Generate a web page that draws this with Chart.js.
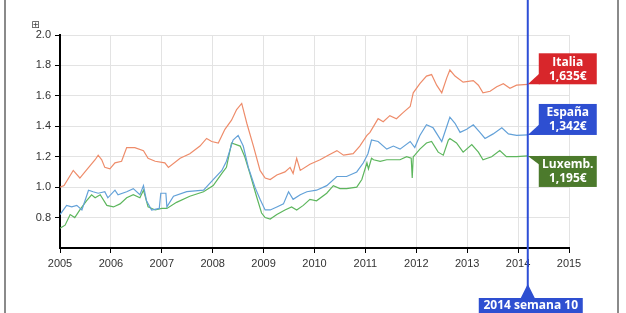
<!DOCTYPE html>
<html>
<head>
<meta charset="utf-8">
<script src="https://cdn.jsdelivr.net/npm/chart.js@4/dist/chart.umd.min.js"></script>
<style>
  html, body { margin: 0; padding: 0; background: #fff; }
  #wrap { width: 626px; height: 313px; position: relative; }
</style>
</head>
<body>
<div id="wrap"><canvas id="myChart" width="626" height="313"></canvas></div>
<script>
// precio medio semanal (€/litro), año decimal
var itYears = [2005.00,2005.08,2005.26,2005.39,2005.49,2005.69,2005.75,2005.82,2005.88,2005.98,
  2006.08,2006.21,2006.31,2006.47,2006.64,2006.73,2006.87,2007.06,2007.13,2007.36,
  2007.55,2007.75,2007.88,2007.98,2008.11,2008.24,2008.37,2008.47,2008.57,2008.67,
  2008.80,2008.93,2009.03,2009.13,2009.26,2009.42,2009.52,2009.58,2009.65,2009.72,
  2009.91,2010.11,2010.27,2010.44,2010.57,2010.76,2010.89,2011.03,2011.09,2011.25,
  2011.35,2011.48,2011.61,2011.74,2011.88,2011.94,2012.07,2012.20,2012.30,2012.40,
  2012.50,2012.60,2012.66,2012.76,2012.92,2013.12,2013.22,2013.31,2013.45,2013.58,
  2013.71,2013.84,2013.97,2014.19]
var itPrices = [1.00,1.01,1.11,1.06,1.10,1.18,1.21,1.18,1.13,1.12,
  1.16,1.17,1.26,1.26,1.24,1.19,1.17,1.16,1.13,1.19,
  1.22,1.27,1.32,1.30,1.29,1.38,1.44,1.51,1.55,1.42,
  1.27,1.11,1.06,1.05,1.08,1.10,1.13,1.09,1.19,1.11,
  1.15,1.18,1.21,1.24,1.21,1.22,1.27,1.34,1.36,1.45,
  1.43,1.47,1.45,1.49,1.53,1.62,1.68,1.73,1.74,1.67,
  1.62,1.72,1.77,1.73,1.69,1.70,1.67,1.62,1.63,1.66,
  1.68,1.65,1.67,1.676]

var esYears = [2005.00,2005.13,2005.23,2005.33,2005.43,2005.56,2005.65,2005.75,2005.88,2005.94,
  2006.08,2006.14,2006.31,2006.44,2006.57,2006.64,2006.70,2006.80,2006.95,2006.98,
  2007.08,2007.10,2007.23,2007.49,2007.82,2008.01,2008.18,2008.27,2008.40,2008.50,
  2008.60,2008.70,2008.83,2008.93,2009.03,2009.13,2009.26,2009.39,2009.49,2009.58,
  2009.72,2009.85,2010.04,2010.24,2010.44,2010.63,2010.83,2010.96,2011.05,2011.12,
  2011.25,2011.42,2011.55,2011.68,2011.88,2011.97,2012.07,2012.20,2012.33,2012.50,
  2012.60,2012.66,2012.76,2012.86,2012.99,2013.12,2013.25,2013.35,2013.51,2013.68,
  2013.81,2013.97,2014.19]
var esPrices = [0.82,0.88,0.87,0.88,0.85,0.98,0.97,0.96,0.97,0.93,
  0.98,0.95,0.97,0.99,0.95,1.01,0.91,0.85,0.86,0.96,
  0.96,0.87,0.94,0.97,0.98,1.05,1.11,1.17,1.31,1.34,
  1.27,1.13,1.00,0.92,0.85,0.85,0.87,0.89,0.97,0.92,
  0.95,0.97,0.98,1.01,1.07,1.07,1.10,1.16,1.22,1.31,
  1.30,1.25,1.27,1.25,1.30,1.26,1.34,1.41,1.39,1.30,
  1.40,1.46,1.42,1.36,1.38,1.41,1.36,1.32,1.35,1.39,
  1.35,1.34,1.343]

var luYears = [2005.00,2005.10,2005.20,2005.29,2005.39,2005.52,2005.62,2005.69,2005.79,2005.92,
  2006.05,2006.18,2006.31,2006.44,2006.57,2006.64,2006.73,2006.87,2007.00,2007.10,
  2007.29,2007.55,2007.82,2008.01,2008.18,2008.27,2008.37,2008.54,2008.63,2008.73,
  2008.86,2008.96,2009.03,2009.13,2009.26,2009.42,2009.55,2009.65,2009.78,2009.91,
  2010.04,2010.24,2010.37,2010.50,2010.63,2010.83,2010.93,2011.03,2011.06,2011.12,
  2011.16,2011.29,2011.42,2011.55,2011.68,2011.81,2011.90,2011.92,2011.94,2011.97,
  2012.07,2012.20,2012.30,2012.43,2012.53,2012.63,2012.66,2012.79,2012.92,2013.09,
  2013.22,2013.31,2013.48,2013.64,2013.77,2013.97,2014.19]
var luPrices = [0.73,0.75,0.82,0.80,0.85,0.91,0.95,0.93,0.95,0.88,
  0.87,0.89,0.93,0.95,0.93,0.98,0.87,0.85,0.86,0.86,
  0.90,0.94,0.97,1.01,1.09,1.13,1.29,1.27,1.20,1.09,
  0.94,0.83,0.80,0.79,0.82,0.85,0.87,0.85,0.88,0.92,
  0.91,0.96,1.01,0.99,0.99,1.00,1.05,1.16,1.12,1.19,
  1.18,1.17,1.18,1.18,1.18,1.20,1.19,1.06,1.20,1.21,
  1.25,1.29,1.30,1.23,1.21,1.31,1.32,1.29,1.23,1.28,
  1.23,1.18,1.20,1.24,1.20,1.20,1.205]

var countries = ["Italia","España","Luxemb."]
var lastPrices = ["1,635€","1,342€","1,195€"]
var lineColors = ["#ee8c6a","#63a1d8","#5db65d"]
var boxColors = ["#d8262b","#2e4fd1","#4c7a2c"]
var markerYear = 2014.19
var markerLabel = "2014 semana 10"

function pts(xs, ys){
  var out = []
  for(var i=0;i<xs.length;i++) out.push({x: xs[i], y: ys[i]})
  return out
}

var frame = {
  id: "frame",
  beforeDraw(chart){
    var ctx = chart.ctx
    ctx.save()
    ctx.fillStyle = "#fff"
    ctx.fillRect(0,0,chart.width,chart.height)
    ctx.strokeStyle = "#8a8a8a"
    ctx.lineWidth = 2
    ctx.beginPath()
    ctx.moveTo(5,0); ctx.lineTo(5,chart.height)
    ctx.moveTo(618,0); ctx.lineTo(618,chart.height)
    ctx.stroke()
    ctx.font = "10px 'DejaVu Sans'"
    ctx.fillStyle = "#444"
    ctx.textAlign = "center"
    ctx.textBaseline = "middle"
    ctx.fillText("⊞", 35.5, 25.5)
    ctx.restore()
  }
}

var callouts = {
  id: "callouts",
  afterDatasetsDraw(chart){
    var ctx = chart.ctx
    var x = chart.scales.x, y = chart.scales.y
    var lx = x.getPixelForValue(markerYear)
    ctx.save()
    ctx.strokeStyle = "#2e4fd6"
    ctx.lineWidth = 2
    ctx.beginPath()
    ctx.moveTo(lx,0); ctx.lineTo(lx,chart.height-16)
    ctx.stroke()

    var bw = 58, bh = 31
    chart.data.datasets.forEach(function(ds, i){
      var last = ds.data[ds.data.length-1]
      var py = y.getPixelForValue(last.y)
      var bx = lx + 11
      var top = (i < 2) ? py - bh : py
      ctx.fillStyle = boxColors[i]
      ctx.fillRect(bx, top, bw, bh)
      ctx.beginPath()
      if(i < 2){
        ctx.moveTo(lx, py); ctx.lineTo(bx+1, py-11); ctx.lineTo(bx+1, py)
      } else {
        ctx.moveTo(lx, py); ctx.lineTo(bx+1, py); ctx.lineTo(bx+1, py+9)
      }
      ctx.closePath()
      ctx.fill()
      ctx.fillStyle = "#fff"
      ctx.font = "bold 12px 'Open Sans'"
      ctx.textAlign = "center"
      ctx.textBaseline = "middle"
      ctx.fillText(countries[i], bx+bw/2, top+9)
      ctx.fillText(lastPrices[i], bx+bw/2, top+23)
    })

    // etiqueta inferior
    var by = chart.height - 15
    ctx.fillStyle = "#2e4fd1"
    ctx.beginPath()
    ctx.moveTo(lx, by-14); ctx.lineTo(lx-7, by); ctx.lineTo(lx+7, by)
    ctx.closePath()
    ctx.fill()
    ctx.fillRect(lx-49, by, 104, 16)
    ctx.fillStyle = "#fff"
    ctx.font = "bold 12px 'Open Sans'"
    ctx.textAlign = "center"
    ctx.textBaseline = "middle"
    ctx.fillText(markerLabel, lx+3, by+8)
    ctx.restore()
  }
}

var myChart = new Chart("myChart", {
  type: "line",
  data: {
    datasets: [
      {label: countries[0], data: pts(itYears, itPrices), borderColor: lineColors[0]},
      {label: countries[1], data: pts(esYears, esPrices), borderColor: lineColors[1]},
      {label: countries[2], data: pts(luYears, luPrices), borderColor: lineColors[2]}
    ]
  },
  options: {
    responsive: false,
    animation: false,
    parsing: false,
    elements: {
      point: {radius: 0},
      line: {borderWidth: 1.2, tension: 0}
    },
    layout: {padding: {left: 0, right: 57, top: 35, bottom: 40}},
    plugins: {legend: {display: false}, tooltip: {enabled: false}},
    scales: {
      x: {
        type: "linear",
        min: 2005, max: 2015,
        afterFit: function(s){ s.height = 25 },
        border: {color: "#000", width: 2},
        grid: {color: "#e3e3e3", tickColor: "#000", tickLength: 5},
        ticks: {
          stepSize: 1, padding: 4, color: "#333",
          font: {family: "'Liberation Sans', Arial", size: 11},
          callback: function(v){ return String(v) }
        }
      },
      y: {
        min: 0.6, max: 2.0,
        afterFit: function(s){ s.width = 60 },
        border: {color: "#000", width: 2},
        grid: {
          color: "#e3e3e3", tickLength: 5,
          tickColor: function(c){ return c.tick && c.tick.value < 0.7 ? "rgba(0,0,0,0)" : "#000" }
        },
        ticks: {
          stepSize: 0.2, padding: 4, color: "#333",
          font: {family: "'Liberation Sans', Arial", size: 11},
          callback: function(v){ return v < 0.7 ? "" : v.toFixed(1) }
        }
      }
    }
  },
  plugins: [frame, callouts]
})
</script>
</body>
</html>
